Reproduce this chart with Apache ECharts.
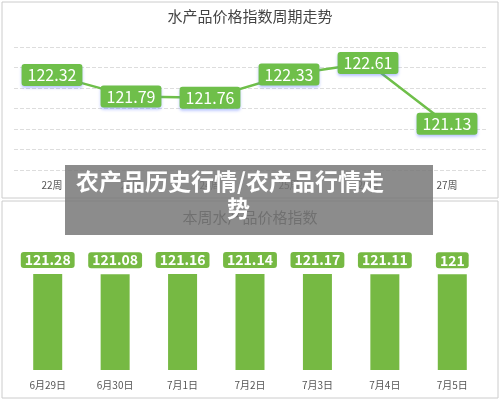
<!DOCTYPE html><html><head><meta charset="utf-8">
<script src="https://cdn.jsdelivr.net/npm/echarts@6/dist/echarts.min.js"></script>
<style>html,body{margin:0;padding:0;background:#fff}#c{width:500px;height:400px}</style></head>
<body><div id="c"></div><script>
const weeks=['22周','23周','24周','25周','26周','27周'];
const weekVals=[122.32,121.79,121.76,122.33,122.61,121.13];
const days=['6月29日','6月30日','7月1日','7月2日','7月3日','7月4日','7月5日'];
const dayVals=[121.28,121.08,121.16,121.14,121.17,121.11,121];
const F='"Noto Sans CJK SC", sans-serif';
const G='#6fbf4a';
const chart=echarts.init(document.getElementById('c'));
chart.setOption({
 animation:false,
 title:[
  {text:'水产品价格指数周期走势',left:'center',top:4,textStyle:{fontFamily:F,fontSize:15,fontWeight:'normal',color:'#444'}},
  {text:'本周水产品价格指数',left:'center',top:205,textStyle:{fontFamily:F,fontSize:15,fontWeight:'normal',color:'#444'}}
 ],
 grid:[
  {left:52,right:53,top:47,height:123},
  {left:14,right:14,top:274,height:96},
  {left:14,right:14,top:47,height:123}
 ],
 xAxis:[
  {gridIndex:0,type:'category',data:weeks,boundaryGap:false,axisLine:{show:false},axisTick:{show:false},
   axisLabel:{fontFamily:F,fontSize:10,color:'#555',margin:10}},
  {gridIndex:1,type:'category',data:days,axisLine:{show:false},axisTick:{show:false},
   axisLabel:{fontFamily:F,fontSize:10,color:'#555',margin:10}},
  {gridIndex:2,type:'value',show:false,splitLine:{show:false}}
 ],
 yAxis:[
  {gridIndex:0,min:120,max:123,interval:0.5,axisLabel:{show:false},axisLine:{show:false},axisTick:{show:false},splitLine:{show:false}},
  {gridIndex:1,min:0,max:121.28,axisLabel:{show:false},axisLine:{show:false},axisTick:{show:false},splitLine:{show:false}},
  {gridIndex:2,min:120,max:123,interval:0.5,axisLabel:{show:false},axisLine:{show:false},axisTick:{show:false},
   splitLine:{lineStyle:{type:'dashed',color:'#ddd'}}}
 ],
 series:[
  {type:'line',xAxisIndex:0,yAxisIndex:0,data:weekVals,symbol:'circle',symbolSize:2,itemStyle:{color:G},lineStyle:{color:G,width:2.5},
   label:{show:true,position:'inside',formatter:p=>p.value.toFixed(2),color:'#fff',fontFamily:F,fontSize:16,
   backgroundColor:G,borderRadius:3,padding:[3,6],shadowColor:'rgba(80,110,255,0.4)',shadowBlur:3,shadowOffsetY:2}},
  {type:'bar',xAxisIndex:1,yAxisIndex:1,data:dayVals,barWidth:29,itemStyle:{color:'#76b943'},
   label:{show:true,position:'top',distance:6,formatter:p=>String(p.value),color:'#fff',fontFamily:F,fontSize:14,fontWeight:'bold',
   backgroundColor:'#76b943',borderRadius:3,padding:[1,4]}}
 ],
 graphic:[
  {type:'rect',shape:{x:2,y:2,width:496,height:196},style:{fill:'none',stroke:'#ccc',lineWidth:1},z:-1},
  {type:'rect',shape:{x:2,y:201,width:496,height:197},style:{fill:'none',stroke:'#ccc',lineWidth:1},z:-1},
  {type:'rect',shape:{x:65,y:165,width:368,height:70},style:{fill:'rgba(120,120,120,0.85)'},z:100},
  {type:'text',x:76,y:170,style:{text:'农产品历史行情/农产品行情走',fill:'#fff',font:'bold 23px "Noto Sans CJK SC"'},z:101},
  {type:'text',x:227,y:197,style:{text:'势',fill:'#fff',font:'bold 23px "Noto Sans CJK SC"'},z:101}
 ]
});
</script></body></html>
